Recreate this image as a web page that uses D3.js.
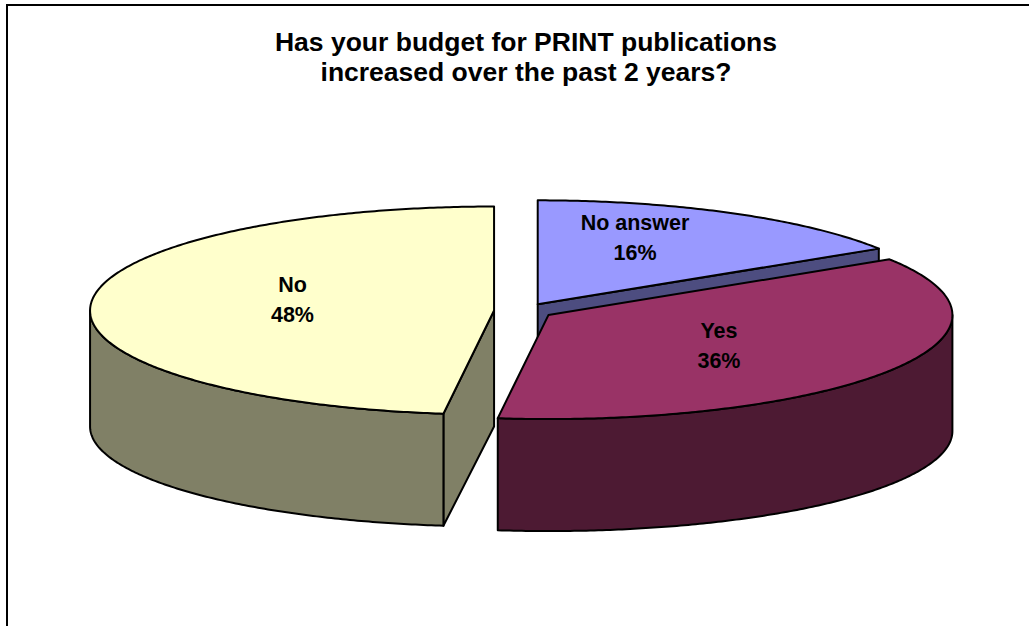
<!DOCTYPE html>
<html>
<head>
<meta charset="utf-8">
<script src="https://cdn.jsdelivr.net/npm/d3@7"></script>
<style>
  html, body { margin: 0; padding: 0; background: #fff; }
  svg { display: block; }
  text { font-family: "Liberation Sans", Arial, sans-serif; font-weight: bold; fill: #000; }
</style>
</head>
<body>
<svg id="chart" width="1029" height="626"></svg>
<script>
// Survey answers, clockwise from twelve o'clock
const categories = ["No answer", "Yes", "No"];
const values = [16, 36, 48];
const topColors = ["#9999FF", "#993366", "#FFFFCC"];
const sideColors = ["#4D4D80", "#4D1A33", "#808066"];
const titleLines = ["Has your budget for PRINT publications", "increased over the past 2 years?"];

const W = 1029, H = 626;
const svg = d3.select("#chart");

// frame around the chart area
svg.append("rect")
  .attr("x", 7).attr("y", 5)
  .attr("width", W + 10).attr("height", H + 10)
  .attr("fill", "none").attr("stroke", "#000").attr("stroke-width", 2);

// title
const title = svg.append("text")
  .attr("text-anchor", "middle")
  .style("font-size", "26.5px");
titleLines.forEach((t, i) => {
  title.append("tspan").attr("x", 526).attr("y", 51 + i * 30).text(t);
});

// 3-D pie geometry
const cx = 523.5, cy = 311;   // pie centre before exploding
const rx = 404;               // horizontal radius
const ryTop = 104;            // vertical radius of the top face
const ryBot = 100;            // vertical radius of the bottom rim
const depth = 116;            // thickness
const explode = 0.073;        // explosion as a fraction of the radius

const pie = d3.pie().sort(null).value(d => d.value).startAngle(0).endAngle(2 * Math.PI);
const data = categories.map((c, i) => ({ name: c, value: values[i], top: topColors[i], side: sideColors[i] }));
const arcs = pie(data);
const total = d3.sum(values);
const pct = d3.format(".0%");

function project(c, a, level) {
  const r = level ? ryBot : ryTop;
  return [c.x + rx * Math.sin(a), c.y - r * Math.cos(a) + level * depth];
}
function arcPoints(c, a0, a1, level) {
  const n = Math.max(2, Math.ceil(Math.abs(a1 - a0) / 0.01));
  return d3.range(n + 1).map(i => project(c, a0 + (a1 - a0) * i / n, level));
}
const line = d3.line().curve(d3.curveLinear);

function outlined(sel, fill) {
  return sel.attr("fill", fill)
    .attr("stroke", "#000")
    .attr("stroke-width", 2)
    .attr("stroke-linejoin", "round");
}

const g = svg.append("g");

arcs.forEach(d => {
  const mid = (d.startAngle + d.endAngle) / 2;
  const c = {
    x: cx + explode * rx * Math.sin(mid),
    y: cy - explode * ryTop * Math.cos(mid)
  };
  d.c = c; d.mid = mid;

  const sg = g.append("g");

  // radial cut faces that turn toward the viewer
  [[d.startAngle, d.startAngle - Math.PI / 2], [d.endAngle, d.endAngle + Math.PI / 2]].forEach(([a, n]) => {
    if (Math.cos(n) < -1e-6) {
      const pts = [[c.x, c.y], project(c, a, 0), project(c, a, 1), [c.x, c.y + depth]];
      outlined(sg.append("path").attr("d", line(pts) + "Z"), d.data.side);
    }
  });

  // curved outer wall on the front half
  const t0 = Math.max(d.startAngle, Math.PI / 2);
  const t1 = Math.min(d.endAngle, 3 * Math.PI / 2);
  if (t1 > t0) {
    const pts = arcPoints(c, t0, t1, 0).concat(arcPoints(c, t1, t0, 1));
    outlined(sg.append("path").attr("d", line(pts) + "Z"), d.data.side);
  }

  // top face
  const topPts = [[c.x, c.y]].concat(arcPoints(c, d.startAngle, d.endAngle, 0));
  outlined(sg.append("path").attr("d", line(topPts) + "Z"), d.data.top);
});

// labels: category and share, placed half-way out along each slice's middle
arcs.forEach(d => {
  const lx = d.c.x + 0.5 * rx * Math.sin(d.mid);
  const ly = d.c.y - 0.66 * ryTop * Math.cos(d.mid) - 6;
  const t = svg.append("text").attr("text-anchor", "middle").style("font-size", "21.5px");
  t.append("tspan").attr("x", lx).attr("y", ly - 8).text(d.data.name);
  t.append("tspan").attr("x", lx).attr("y", ly + 22).text(pct(d.data.value / total));
});
</script>
</body>
</html>
